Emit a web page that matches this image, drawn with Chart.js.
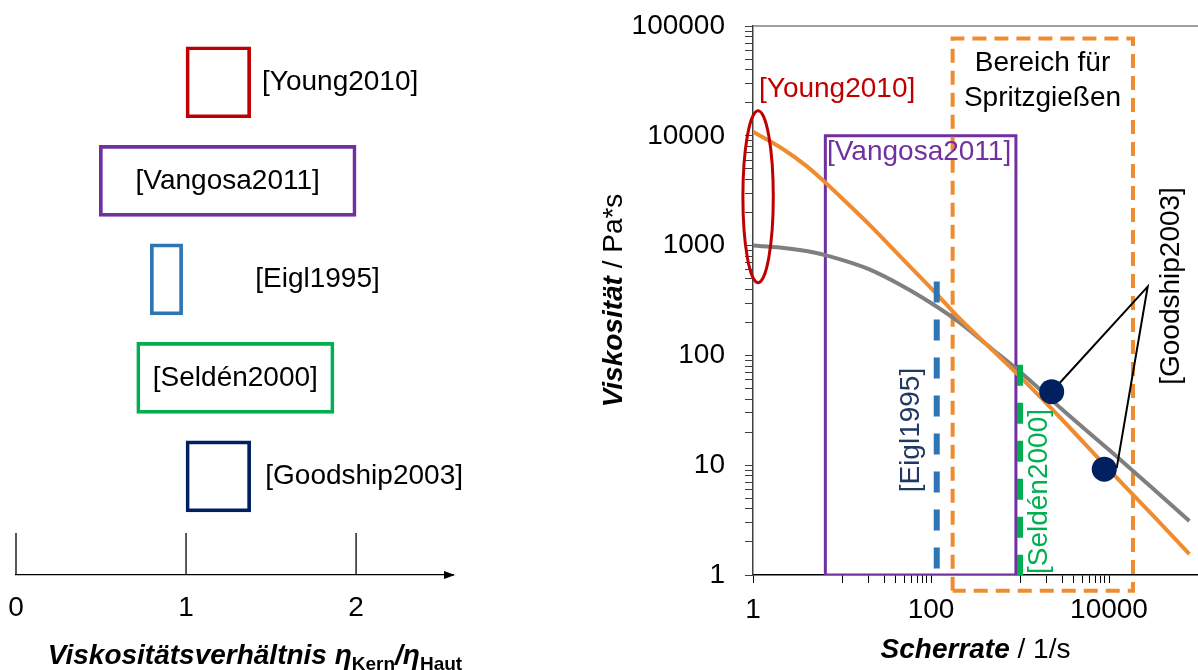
<!DOCTYPE html>
<html>
<head>
<meta charset="utf-8">
<script src="https://cdn.jsdelivr.net/npm/chart.js@4.4.1/dist/chart.umd.min.js"></script>
<style>
  body { margin: 0; background: #fff; width: 1198px; height: 670px; position: relative; overflow: hidden; }
  #left { position: absolute; left: 0; top: 0; }
  #right { position: absolute; left: 560px; top: 0; }
</style>
</head>
<body>
<canvas id="left" width="480" height="670"></canvas>
<canvas id="right" width="638" height="670"></canvas>
<script>
// ---- left panel: viscosity ratio core/skin per study ----
const studies = ['[Young2010]', '[Vangosa2011]', '[Eigl1995]', '[Seldén2000]', '[Goodship2003]'];
const ratioLow = [1.0, 0.49, 0.79, 0.71, 1.0];
const ratioHigh = [1.38, 2.0, 0.98, 1.87, 1.38];
const studyColors = ['#C00000', '#7030A0', '#2E75B6', '#00B050', '#002060'];
const ratioTicks = [0, 1, 2];

// ---- right panel: viscosity vs shear rate ----
const rateOrange = [1, 2, 4, 6.4, 10, 20, 50, 116, 200, 500, 1000, 3000, 10000, 30000, 80000];
const viscOrange = [10900, 7900, 5300, 3800, 2700, 1570, 730, 362, 225, 110, 64, 25.8, 9.1, 3.6, 1.55];
const rateGray = [1, 2, 5, 10, 20, 50, 100, 200, 500, 1000, 3000, 10000, 30000, 80000];
const viscGray = [1000, 960, 860, 740, 610, 420, 300, 205, 112, 71, 32, 13.8, 6.3, 3.1];
const goodshipRate = [2270, 8850];
const goodshipVisc = [46.7, 9.2];
const calloutRate = [2270, 27200, 12200];
const calloutVisc = [46.7, 423, 9.4];
const vangosaRate = [6.5, 900];
const vangosaVisc = [1, 10000];
const moldingRate = [175, 18600];
const moldingVisc = [0.72, 77000];
const eiglRate = [116, 116];
const eiglVisc = [470, 1];
const seldenRate = [1000, 1000];
const seldenVisc = [82, 1];
const youngRate = [0.77, 1.69];
const youngVisc = [460, 16900];
const xTickVals = [1, 10, 20, 30, 40, 50, 60, 70, 80, 90, 100,
  1000, 2000, 3000, 4000, 5000, 6000, 7000, 8000, 9000, 10000, 100000];
const xTickLabels = [1, 100, 10000];
const yTickVals = [1, 2, 3, 4, 5, 6, 7, 8, 9, 10, 20, 30, 40, 50, 60, 70, 80, 90,
  100, 200, 300, 400, 500, 600, 700, 800, 900, 1000, 2000, 3000, 4000, 5000, 6000, 7000, 8000, 9000,
  10000, 20000, 30000, 40000, 50000, 60000, 70000, 80000, 90000, 100000];
const yTickLabels = [1, 10, 100, 1000, 10000, 100000];

const FONT = "'Liberation Sans', Arial, sans-serif";
Chart.defaults.font.family = FONT;
Chart.defaults.color = '#000';

function pts(xs, ys) {
  return xs.map((x, i) => ({ x: x, y: ys[i] }));
}
function rect(xs, ys) {
  return [{ x: xs[0], y: ys[0] }, { x: xs[0], y: ys[1] }, { x: xs[1], y: ys[1] }, { x: xs[1], y: ys[0] }, { x: xs[0], y: ys[0] }];
}
// draws text made of differently styled pieces
function runs(ctx, parts, x, y, align) {
  let w = 0;
  parts.forEach(p => { ctx.font = p.f + ' ' + FONT; w += ctx.measureText(p.t).width; });
  let cx = align === 'center' ? x - w / 2 : x;
  ctx.textAlign = 'left';
  ctx.textBaseline = 'alphabetic';
  parts.forEach(p => {
    ctx.font = p.f + ' ' + FONT;
    ctx.fillText(p.t, cx, y + (p.dy || 0));
    cx += ctx.measureText(p.t).width;
  });
}
// keep the plot area where it is, whatever the tick labels want
function noPad(s) {
  s.paddingLeft = 0; s.paddingRight = 0; s.paddingTop = 0; s.paddingBottom = 0;
}

// left chart decorations: upward ticks, arrow, labels, title
const leftDecor = {
  id: 'leftDecor',
  afterDraw(chart) {
    const { ctx, chartArea: a, scales: { x, y } } = chart;
    ctx.save();
    ctx.strokeStyle = '#000';
    ctx.lineWidth = 1.3;
    ratioTicks.forEach(v => {
      const px = x.getPixelForValue(v);
      ctx.beginPath();
      ctx.moveTo(px, a.bottom);
      ctx.lineTo(px, a.bottom - 42);
      ctx.stroke();
    });
    ctx.fillStyle = '#000';
    ctx.beginPath();
    ctx.moveTo(a.right + 2, a.bottom);
    ctx.lineTo(a.right - 9, a.bottom - 4);
    ctx.lineTo(a.right - 9, a.bottom + 4);
    ctx.closePath();
    ctx.fill();

    const notePos = [[1.447, 'left'], [1.245, 'center'], [1.407, 'left'], [1.29, 'center'], [1.466, 'left']];
    ctx.font = '28px ' + FONT;
    ctx.textBaseline = 'middle';
    studies.forEach((s, i) => {
      ctx.textAlign = notePos[i][1];
      ctx.fillText(s, x.getPixelForValue(notePos[i][0]), y.getPixelForValue(i + 1));
    });

    runs(ctx, [
      { t: 'Viskositätsverhältnis ', f: 'bold italic 28px' },
      { t: 'η', f: 'bold italic 28px' },
      { t: 'Kern', f: 'bold 19px', dy: 6 },
      { t: '/', f: 'bold italic 28px' },
      { t: 'η', f: 'bold italic 28px' },
      { t: 'Haut', f: 'bold 19px', dy: 6 }
    ], 255, 664, 'center');
    ctx.restore();
  }
};

new Chart(document.getElementById('left'), {
  type: 'bar',
  data: {
    datasets: [{
      data: studies.map((s, i) => ({ x: [ratioLow[i], ratioHigh[i]], y: i + 1 })),
      backgroundColor: 'rgba(0,0,0,0)',
      borderColor: studyColors,
      borderWidth: 3,
      borderSkipped: false,
      barThickness: 71
    }]
  },
  options: {
    indexAxis: 'y',
    responsive: false,
    animation: false,
    events: [],
    layout: { autoPadding: false, padding: { left: 16, right: 27, top: 33, bottom: 0 } },
    plugins: { legend: { display: false }, tooltip: { enabled: false } },
    scales: {
      x: {
        type: 'linear', min: 0, max: 2.57,
        ticks: {
          stepSize: 1, padding: 8, font: { size: 28 }, color: '#000', maxRotation: 0,
          callback: v => ratioTicks.includes(v) ? String(v) : ''
        },
        grid: { display: false },
        border: { display: true, color: '#000', width: 1.3 },
        afterFit: s => { s.height = 95; noPad(s); }
      },
      y: { type: 'linear', min: 0.5, max: 6, reverse: true, offset: false, display: false }
    }
  },
  plugins: [leftDecor]
});

// right chart decorations
const rightDecor = {
  id: 'rightDecor',
  afterDatasetsDraw(chart) {
    const { ctx, chartArea: a, scales: { x, y } } = chart;
    ctx.save();
    // top frame line
    ctx.strokeStyle = '#808080';
    ctx.lineWidth = 1.5;
    ctx.beginPath();
    ctx.moveTo(a.left, a.top);
    ctx.lineTo(a.right, a.top);
    ctx.stroke();

    // Young2010 ellipse
    const ex0 = x.getPixelForValue(youngRate[0]), ex1 = x.getPixelForValue(youngRate[1]);
    const ey0 = y.getPixelForValue(youngVisc[0]), ey1 = y.getPixelForValue(youngVisc[1]);
    ctx.strokeStyle = '#C00000';
    ctx.lineWidth = 3;
    ctx.beginPath();
    ctx.ellipse((ex0 + ex1) / 2, (ey0 + ey1) / 2, (ex1 - ex0) / 2, (ey0 - ey1) / 2, 0, 0, Math.PI * 2);
    ctx.stroke();

    const notes = [
      { t: '[Young2010]', gx: 1.168, gy: 26700, c: '#C00000', al: 'left' },
      { t: '[Vangosa2011]', gx: 6.78, gy: 7080, c: '#7030A0', al: 'left' },
      { t: 'Bereich für', gx: 1790, gy: 46000, c: '#000', al: 'center' },
      { t: 'Spritzgießen', gx: 1790, gy: 21870, c: '#000', al: 'center' },
      { t: '[Eigl1995]', gx: 60.7, gy: 20.9, c: '#203864', al: 'center', rot: true },
      { t: '[Seldén2000]', gx: 1630, gy: 5.76, c: '#00B050', al: 'center', rot: true },
      { t: '[Goodship2003]', gx: 49700, gy: 429, c: '#000', al: 'center', rot: true }
    ];
    ctx.font = '28px ' + FONT;
    ctx.textBaseline = 'middle';
    notes.forEach(n => {
      ctx.fillStyle = n.c;
      ctx.textAlign = n.al;
      const px = x.getPixelForValue(n.gx), py = y.getPixelForValue(n.gy);
      if (n.rot) {
        ctx.save();
        ctx.translate(px, py);
        ctx.rotate(-Math.PI / 2);
        ctx.fillText(n.t, 0, 0);
        ctx.restore();
      } else {
        ctx.fillText(n.t, px, py);
      }
    });

    // axis titles
    ctx.fillStyle = '#000';
    runs(ctx, [
      { t: 'Scherrate', f: 'bold italic 28px' },
      { t: ' / 1/s', f: '28px' }
    ], (a.left + a.right) / 2, 658, 'center');
    ctx.save();
    ctx.translate(52, (a.top + a.bottom) / 2);
    ctx.rotate(-Math.PI / 2);
    runs(ctx, [
      { t: 'Viskosität', f: 'bold italic 28px' },
      { t: ' / Pa*s', f: '28px' }
    ], 0, 10, 'center');
    ctx.restore();
    ctx.restore();
  }
};

const lineBase = { showLine: true, pointRadius: 0, tension: 0, fill: false };

new Chart(document.getElementById('right'), {
  type: 'scatter',
  data: {
    datasets: [
      { data: pts(goodshipRate, goodshipVisc), pointRadius: 12.5, pointBackgroundColor: '#002060', pointBorderWidth: 0, showLine: false },
      Object.assign({ data: pts(calloutRate, calloutVisc), borderColor: '#000', borderWidth: 2 }, lineBase),
      Object.assign({ data: pts(eiglRate, eiglVisc), borderColor: '#2E75B6', borderWidth: 6, borderDash: [21, 17] }, lineBase),
      Object.assign({ data: pts(seldenRate, seldenVisc), borderColor: '#00B050', borderWidth: 6, borderDash: [21, 17] }, lineBase),
      Object.assign({ data: pts(rateOrange, viscOrange), borderColor: '#F08C30', borderWidth: 4 }, lineBase, { cubicInterpolationMode: 'monotone' }),
      Object.assign({ data: pts(rateGray, viscGray), borderColor: '#7F7F7F', borderWidth: 4 }, lineBase, { cubicInterpolationMode: 'monotone' }),
      Object.assign({ data: rect(moldingRate, moldingVisc), borderColor: '#F08C30', borderWidth: 4, borderDash: [14, 8], clip: false }, lineBase),
      Object.assign({ data: rect(vangosaRate, vangosaVisc), borderColor: '#7030A0', borderWidth: 3 }, lineBase)
    ]
  },
  options: {
    responsive: false,
    animation: false,
    events: [],
    layout: { autoPadding: false, padding: { left: 0, right: 0, top: 26, bottom: 0 } },
    plugins: { legend: { display: false }, tooltip: { enabled: false } },
    scales: {
      x: {
        type: 'logarithmic', min: 1, max: 100000,
        afterBuildTicks: s => { s.ticks = xTickVals.map(v => ({ value: v })); },
        ticks: {
          padding: 10, font: { size: 28 }, color: '#000', autoSkip: false, maxRotation: 0,
          callback: v => xTickLabels.includes(v) ? String(v) : ''
        },
        grid: { drawOnChartArea: false, tickLength: 8, color: '#000' },
        border: { color: '#000', width: 1.5 },
        afterFit: s => { s.height = 95; noPad(s); }
      },
      y: {
        type: 'logarithmic', min: 1, max: 100000,
        afterBuildTicks: s => { s.ticks = yTickVals.map(v => ({ value: v })); },
        ticks: {
          padding: 20, font: { size: 28 }, color: '#000', autoSkip: false,
          callback: v => yTickLabels.includes(v) ? String(v) : ''
        },
        grid: { drawOnChartArea: false, tickLength: 8, color: '#404040' },
        border: { color: '#404040', width: 1.5 },
        afterFit: s => { s.width = 193; noPad(s); }
      }
    }
  },
  plugins: [rightDecor]
});
</script>
</body>
</html>
